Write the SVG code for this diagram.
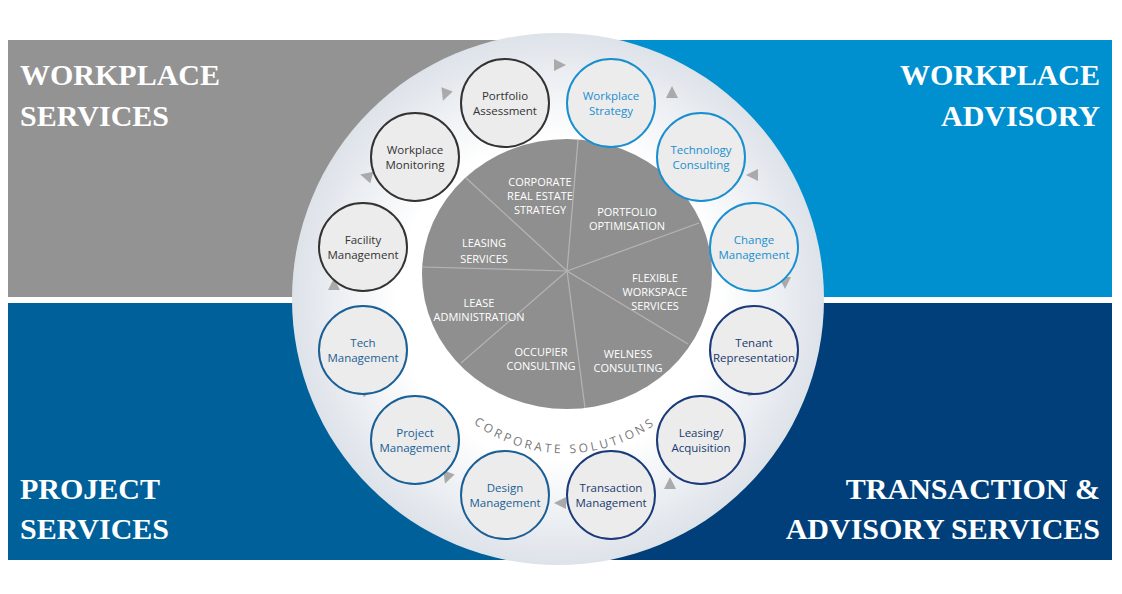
<svg xmlns="http://www.w3.org/2000/svg" width="1122" height="594" viewBox="0 0 1122 594">
<style>
.t{font-family:"Liberation Serif",serif;font-weight:bold;font-size:30px;fill:#fff}
.n{font-family:"Open Sans","Liberation Sans",sans-serif;font-size:11.5px;text-anchor:middle}
.p{font-family:"Open Sans","Liberation Sans",sans-serif;font-size:11px;fill:#fff;text-anchor:middle}
.c{fill:#ececec;stroke-width:2}
.tri{fill:#aaaaaa}
</style>
<defs>
<radialGradient id="g" cx="558" cy="299" r="268" gradientUnits="userSpaceOnUse">
<stop offset="0.6" stop-color="#ffffff"/>
<stop offset="1" stop-color="#dde2e9"/>
</radialGradient>
<path id="tri" d="M-6,-6 L6,0 L-6,6 Z"/>
<path id="arc" d="M440,390 A155,155 0 0 0 690,390"/>
</defs>
<rect width="1122" height="594" fill="#fff"/>
<rect x="8" y="40" width="512" height="257" fill="#939393"/>
<rect x="600" y="40" width="512" height="257" fill="#0090d0"/>
<rect x="8" y="303" width="512" height="257" fill="#00609a"/>
<rect x="600" y="303" width="512" height="257" fill="#003f7a"/>
<circle cx="558" cy="299" r="266" fill="url(#g)"/>
<g id="titles">
<text class="t" x="20" y="85">WORKPLACE</text>
<text class="t" x="20" y="126">SERVICES</text>
<text class="t" x="1100" y="85" text-anchor="end">WORKPLACE</text>
<text class="t" x="1100" y="126" text-anchor="end">ADVISORY</text>
<text class="t" x="20" y="499">PROJECT</text>
<text class="t" x="20" y="539">SERVICES</text>
<text class="t" x="1100" y="499" text-anchor="end">TRANSACTION &amp;</text>
<text class="t" x="1100" y="539" text-anchor="end">ADVISORY SERVICES</text>
</g>
<g id="pie">
<ellipse cx="567" cy="274" rx="145" ry="135" fill="#8f8f8f"/>
<g stroke="#b5b5b5" stroke-width="1.2">
<line x1="567" y1="271" x2="578" y2="140"/>
<line x1="567" y1="271" x2="699" y2="223"/>
<line x1="567" y1="271" x2="688" y2="344"/>
<line x1="567" y1="271" x2="585" y2="408"/>
<line x1="567" y1="271" x2="461" y2="363"/>
<line x1="567" y1="271" x2="423" y2="267"/>
<line x1="567" y1="271" x2="466" y2="178"/>
</g>
<text class="p" x="540" y="186">CORPORATE</text><text class="p" x="540" y="200">REAL ESTATE</text><text class="p" x="540" y="214">STRATEGY</text>
<text class="p" x="627" y="216">PORTFOLIO</text><text class="p" x="627" y="230">OPTIMISATION</text>
<text class="p" x="484" y="247">LEASING</text><text class="p" x="484" y="263">SERVICES</text>
<text class="p" x="655" y="282">FLEXIBLE</text><text class="p" x="655" y="296">WORKSPACE</text><text class="p" x="655" y="310">SERVICES</text>
<text class="p" x="479" y="307">LEASE</text><text class="p" x="479" y="321">ADMINISTRATION</text>
<text class="p" x="541" y="356">OCCUPIER</text><text class="p" x="541" y="370">CONSULTING</text>
<text class="p" x="628" y="358">WELNESS</text><text class="p" x="628" y="372">CONSULTING</text>
<text font-family="'Open Sans','Liberation Sans',sans-serif" font-size="12" fill="#777" letter-spacing="3"><textPath href="#arc" startOffset="50%" text-anchor="middle">CORPORATE SOLUTIONS</textPath></text>
</g>
<g id="connectors">
<use href="#tri" class="tri" transform="translate(560,65)"/>
<use href="#tri" class="tri" transform="translate(672,92) rotate(-90)"/>
<use href="#tri" class="tri" transform="translate(752,175) rotate(180)"/>
<use href="#tri" class="tri" transform="translate(785,283) rotate(90)"/>
<use href="#tri" class="tri" transform="translate(755,392) rotate(15)"/>
<use href="#tri" class="tri" transform="translate(670,483) rotate(-90)"/>
<use href="#tri" class="tri" transform="translate(560,503) rotate(180)"/>
<use href="#tri" class="tri" transform="translate(447,478) rotate(110)"/>
<use href="#tri" class="tri" transform="translate(368,390) rotate(-15)"/>
<use href="#tri" class="tri" transform="translate(334,284) rotate(-90)"/>
<use href="#tri" class="tri" transform="translate(366,176) rotate(195)"/>
<use href="#tri" class="tri" transform="translate(445,95) rotate(110)"/>
</g>
<g id="n1"><circle class="c" cx="505" cy="103" r="44" stroke="#333"/><text class="n" fill="#333" x="505" y="100">Portfolio</text><text class="n" fill="#333" x="505" y="115">Assessment</text></g>
<g id="n2"><circle class="c" cx="611" cy="103" r="44" stroke="#1a8fd0"/><text class="n" fill="#1a8fd0" x="611" y="100">Workplace</text><text class="n" fill="#1a8fd0" x="611" y="115">Strategy</text></g>
<g id="n3"><circle class="c" cx="701" cy="157" r="44" stroke="#1a8fd0"/><text class="n" fill="#1a8fd0" x="701" y="154">Technology</text><text class="n" fill="#1a8fd0" x="701" y="169">Consulting</text></g>
<g id="n4"><circle class="c" cx="754" cy="247" r="44" stroke="#1a8fd0"/><text class="n" fill="#1a8fd0" x="754" y="244">Change</text><text class="n" fill="#1a8fd0" x="754" y="259">Management</text></g>
<g id="n5"><circle class="c" cx="754" cy="350" r="44" stroke="#1a3a7a"/><text class="n" fill="#1a3a6e" x="754" y="347">Tenant</text><text class="n" fill="#1a3a6e" x="754" y="362">Representation</text></g>
<g id="n6"><circle class="c" cx="701" cy="440" r="44" stroke="#1a3a7a"/><text class="n" fill="#1a3a6e" x="701" y="437">Leasing/</text><text class="n" fill="#1a3a6e" x="701" y="452">Acquisition</text></g>
<g id="n7"><circle class="c" cx="611" cy="495" r="44" stroke="#1a3a7a"/><text class="n" fill="#1a3a6e" x="611" y="492">Transaction</text><text class="n" fill="#1a3a6e" x="611" y="507">Management</text></g>
<g id="n8"><circle class="c" cx="505" cy="495" r="44" stroke="#1a5f95"/><text class="n" fill="#1a5f95" x="505" y="492">Design</text><text class="n" fill="#1a5f95" x="505" y="507">Management</text></g>
<g id="n9"><circle class="c" cx="415" cy="440" r="44" stroke="#1a5f95"/><text class="n" fill="#1a5f95" x="415" y="437">Project</text><text class="n" fill="#1a5f95" x="415" y="452">Management</text></g>
<g id="n10"><circle class="c" cx="363" cy="350" r="44" stroke="#1a5f95"/><text class="n" fill="#1a5f95" x="363" y="347">Tech</text><text class="n" fill="#1a5f95" x="363" y="362">Management</text></g>
<g id="n11"><circle class="c" cx="363" cy="247" r="44" stroke="#333"/><text class="n" fill="#333" x="363" y="244">Facility</text><text class="n" fill="#333" x="363" y="259">Management</text></g>
<g id="n12"><circle class="c" cx="415" cy="157" r="44" stroke="#333"/><text class="n" fill="#333" x="415" y="154">Workplace</text><text class="n" fill="#333" x="415" y="169">Monitoring</text></g>
</svg>
